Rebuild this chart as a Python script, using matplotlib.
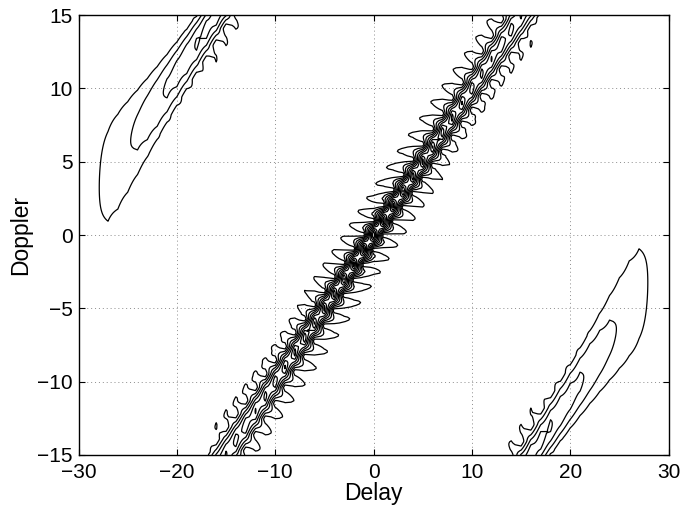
import numpy as np
import matplotlib
matplotlib.use("Agg")
import matplotlib.pyplot as plt

# ---- signal / chart parameters ----
n_chips = 31            # length of discrete chirp code (samples)
delay_lim = [-30, 30]
doppler_lim = [-15, 15]
doppler_step = 0.1
levels = [0.1, 0.2, 0.3, 0.4, 0.5, 0.6, 0.7, 0.8, 0.9]
x_ticks = [-30, -20, -10, 0, 10, 20, 30]
y_ticks = [-15, -10, -5, 0, 5, 10, 15]

# ---- discrete ambiguity function of a sampled chirp (integer delays) ----
n = np.arange(n_chips)
s = np.exp(1j * np.pi * n**2 / n_chips)

delays = np.arange(-n_chips, n_chips + 1)
dopplers = np.arange(doppler_lim[0], doppler_lim[1] + doppler_step / 2, doppler_step)
P = np.zeros((delays.size, n_chips), dtype=complex)
for i, k in enumerate(delays):
    if abs(k) >= n_chips:
        continue
    if k >= 0:
        P[i, :n_chips - k] = s[:n_chips - k] * np.conj(s[k:])
    else:
        P[i, -k:] = s[-k:] * np.conj(s[:n_chips + k])
E = np.exp(1j * 2 * np.pi * np.outer(n, dopplers) / n_chips)
A = np.abs(P @ E) / n_chips   # shape (delay, doppler)

fig = plt.figure(figsize=(6.84, 5.09), dpi=100)
ax = fig.add_axes([0.1148, 0.1061, 0.8626, 0.8644])
ax.contour(delays, dopplers, A.T, levels=levels, colors='k', linewidths=0.9)
ax.set_xlim(delay_lim)
ax.set_ylim(doppler_lim)
ax.set_xticks(x_ticks)
ax.set_yticks(y_ticks)
ax.grid(True, linestyle=(0, (1, 3)), color='0.55', linewidth=0.7)
ax.tick_params(direction='in', top=True, right=True, labelsize=15, length=4)
ax.tick_params(axis='x', pad=6)
ax.tick_params(axis='y', pad=4)
for lbl in ax.get_xticklabels() + ax.get_yticklabels():
    lbl.set_family('Liberation Sans')
ax.set_xlabel('Delay', fontsize=16.5, family='Liberation Sans', labelpad=0)
ax.set_ylabel('Doppler', fontsize=16.5, family='Liberation Sans', labelpad=4)
for sp in ax.spines.values():
    sp.set_linewidth(1.0)
fig.savefig('out.png', dpi=100)
